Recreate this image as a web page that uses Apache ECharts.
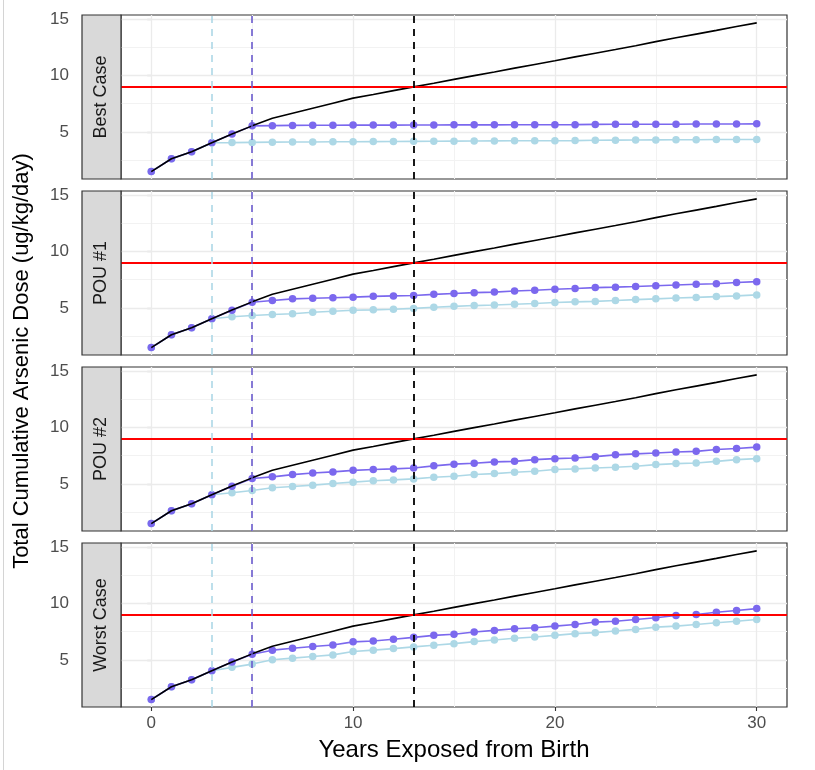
<!DOCTYPE html>
<html><head><meta charset="utf-8">
<script src="https://cdn.jsdelivr.net/npm/echarts@6/dist/echarts.min.js"></script>
<style>html,body{margin:0;padding:0;background:#fff}#c{width:815px;height:770px}</style>
</head><body><div id="c"></div>
<script>
// ---------- data ----------
const years = [0,1,2,3,4,5,6,7,8,9,10,11,12,13,14,15,16,17,18,19,20,21,22,23,24,25,26,27,28,29,30];
const panelNames = ['Best Case','POU #1','POU #2','Worst Case'];
// no treatment (black line, no markers)
const noTreatment = [1.46,2.6,3.23,4.03,4.8,5.53,6.2,6.65,7.1,7.55,8.0,8.33,8.67,9.0,9.33,9.67,10.0,10.33,10.67,11.0,11.33,11.67,12.0,12.33,12.67,13.03,13.37,13.7,14.03,14.37,14.7];
// treatment starting at year 5 (purple)
const purpleBest  = [1.46,2.6,3.23,4.03,4.8,5.53,5.55,5.57,5.58,5.58,5.6,5.6,5.6,5.61,5.61,5.62,5.62,5.62,5.63,5.63,5.63,5.64,5.66,5.67,5.67,5.68,5.68,5.69,5.69,5.7,5.71];
const purplePOU1  = [1.46,2.6,3.23,4.03,4.78,5.5,5.65,5.8,5.85,5.9,5.95,6.02,6.06,6.1,6.2,6.28,6.35,6.4,6.5,6.57,6.65,6.72,6.8,6.84,6.9,6.97,7.03,7.1,7.14,7.25,7.33];
const purplePOU2  = [1.46,2.6,3.23,4.03,4.78,5.47,5.62,5.82,5.97,6.06,6.2,6.27,6.33,6.41,6.6,6.75,6.83,6.95,7.0,7.15,7.24,7.3,7.42,7.58,7.67,7.74,7.83,7.89,8.05,8.15,8.27];
const purpleWorst = [1.46,2.6,3.23,4.03,4.8,5.5,5.86,6.03,6.18,6.32,6.6,6.68,6.83,7.0,7.18,7.27,7.47,7.62,7.77,7.86,8.0,8.15,8.36,8.44,8.59,8.74,8.94,9.03,9.24,9.39,9.56];
// treatment starting at year 3 (light blue)
const blueBest  = [1.46,2.6,3.23,4.03,4.04,4.06,4.08,4.09,4.1,4.11,4.12,4.13,4.14,4.15,4.16,4.17,4.18,4.19,4.2,4.2,4.21,4.22,4.25,4.26,4.27,4.28,4.29,4.3,4.31,4.31,4.32];
const bluePOU1  = [1.46,2.6,3.23,4.03,4.2,4.32,4.4,4.47,4.6,4.7,4.78,4.82,4.87,4.95,5.05,5.13,5.2,5.25,5.32,5.38,5.47,5.53,5.57,5.65,5.73,5.8,5.87,5.93,6.0,6.06,6.15];
const bluePOU2  = [1.46,2.6,3.23,4.03,4.2,4.4,4.65,4.76,4.88,5.03,5.15,5.28,5.35,5.44,5.59,5.68,5.83,5.91,6.03,6.12,6.27,6.33,6.41,6.47,6.56,6.71,6.8,6.86,7.0,7.15,7.24];
const blueWorst = [1.46,2.6,3.23,4.03,4.33,4.62,5.0,5.15,5.3,5.44,5.74,5.86,6.0,6.15,6.3,6.44,6.62,6.77,6.92,7.03,7.18,7.33,7.42,7.56,7.71,7.91,8.0,8.15,8.3,8.44,8.59];
const purpleSets = [purpleBest, purplePOU1, purplePOU2, purpleWorst];
const blueSets = [blueBest, bluePOU1, bluePOU2, blueWorst];
const doseLimit = 9;
const blueStartYear = 3, purpleStartYear = 5, limitYear = 13;
const xTicks = [0,10,20,30], xMinor = [5,15,25];
const yTicks = [5,10,15], yMinor = [2.5,7.5,12.5];
const xRange = [-1.5, 31.5], yRange = [0.8, 15.4];

// ---------- layout / style ----------
const FONT = 'Liberation Sans, Arial, sans-serif';
const PURPLE = '#7B68EE', LBLUE = '#ADD8E6';
const plotLeft = 121, plotWidth = 666, plotHeight = 164, stripW = 39;
const tops = [15, 191, 367, 543];

const pairs = (ys) => years.map((x, i) => [x, ys[i]]);
const grids = [], xAxes = [], yAxes = [], series = [], graphics = [];

tops.forEach((top, i) => {
  const last = i === tops.length - 1;
  grids.push({left: plotLeft, top: top, width: plotWidth, height: plotHeight, show: true,
    borderColor: '#333333', borderWidth: 1.2, backgroundColor: '#fff'});
  xAxes.push({type: 'value', gridIndex: i, min: xRange[0], max: xRange[1],
    axisLine: {show: false}, splitLine: {show: false},
    axisTick: {show: last, customValues: xTicks, length: 4, lineStyle: {color: '#333', width: 1.1}},
    axisLabel: {show: last, customValues: xTicks, margin: 8, color: '#4D4D4D', fontSize: 17, fontFamily: FONT},
    name: last ? 'Years Exposed from Birth' : '', nameLocation: 'middle', nameGap: 31,
    nameTextStyle: {color: '#000', fontSize: 24, fontFamily: FONT}});
  yAxes.push({type: 'value', gridIndex: i, min: yRange[0], max: yRange[1], offset: stripW,
    axisLine: {show: false}, splitLine: {show: false},
    axisTick: {show: true, customValues: yTicks, length: 4, lineStyle: {color: '#333', width: 1.1}},
    axisLabel: {customValues: yTicks, margin: 13, color: '#4D4D4D', fontSize: 17, fontFamily: FONT}});

  // background grid lines (drawn beneath the series)
  const gl = [];
  xMinor.forEach(v => gl.push({xAxis: v, lineStyle: {color: '#F2F2F2', width: 1, type: 'solid'}}));
  yMinor.forEach(v => gl.push({yAxis: v, lineStyle: {color: '#F2F2F2', width: 1, type: 'solid'}}));
  xTicks.forEach(v => gl.push({xAxis: v, lineStyle: {color: '#EBEBEB', width: 1.3, type: 'solid'}}));
  yTicks.forEach(v => gl.push({yAxis: v, lineStyle: {color: '#EBEBEB', width: 1.3, type: 'solid'}}));
  series.push({type: 'line', xAxisIndex: i, yAxisIndex: i, data: [], z: 1, silent: true,
    markLine: {z: 1, silent: true, symbol: 'none', label: {show: false}, data: gl, animation: false}});

  series.push({type: 'line', name: 'blue', xAxisIndex: i, yAxisIndex: i, data: pairs(blueSets[i]), z: 2,
    symbol: 'circle', symbolSize: 7.5, itemStyle: {color: LBLUE}, lineStyle: {color: LBLUE, width: 1.6}});
  series.push({type: 'line', name: 'purple', xAxisIndex: i, yAxisIndex: i, data: pairs(purpleSets[i]), z: 3,
    symbol: 'circle', symbolSize: 7.5, itemStyle: {color: PURPLE}, lineStyle: {color: PURPLE, width: 1.6}});
  series.push({type: 'line', name: 'none', xAxisIndex: i, yAxisIndex: i, data: pairs(noTreatment), z: 4,
    showSymbol: false, symbol: 'none', lineStyle: {color: '#000', width: 1.6}});

  series.push({type: 'line', xAxisIndex: i, yAxisIndex: i, data: [], z: 5, silent: true,
    markLine: {z: 5, silent: true, symbol: 'none', label: {show: false}, animation: false, data: [
      {yAxis: doseLimit, lineStyle: {color: '#FF0000', width: 1.8, type: 'solid'}},
      {xAxis: blueStartYear, lineStyle: {color: LBLUE, width: 1.6, type: [7, 6]}},
      {xAxis: purpleStartYear, lineStyle: {color: '#6A5ACD', width: 1.6, type: [7, 6]}},
      {xAxis: limitYear, lineStyle: {color: '#000', width: 1.8, type: [7, 6]}}
    ]}});

  graphics.push({type: 'rect', shape: {x: plotLeft - stripW, y: top, width: stripW, height: plotHeight},
    style: {fill: '#D9D9D9', stroke: '#333333', lineWidth: 1.2}, z: 10});
  graphics.push({type: 'text', x: plotLeft - stripW / 2, y: top + plotHeight / 2, rotation: Math.PI / 2,
    style: {text: panelNames[i], textAlign: 'center', textVerticalAlign: 'middle', fill: '#1A1A1A',
      fontSize: 18, fontFamily: FONT}, z: 11});
});

graphics.push({type: 'text', x: 22, y: (tops[0] + tops[3] + plotHeight) / 2, rotation: Math.PI / 2,
  style: {text: 'Total Cumulative Arsenic Dose (ug/kg/day)', textAlign: 'center', textVerticalAlign: 'middle',
    fill: '#000', fontSize: 22, fontFamily: FONT}, z: 11});
graphics.push({type: 'line', shape: {x1: 3.5, y1: 0, x2: 3.5, y2: 770}, style: {stroke: '#D4D4D4', lineWidth: 1}, z: 11});

const chart = echarts.init(document.getElementById('c'), null, {renderer: 'canvas'});
chart.setOption({animation: false, backgroundColor: '#fff', grid: grids, xAxis: xAxes, yAxis: yAxes,
  series: series, graphic: graphics});
</script></body></html>
